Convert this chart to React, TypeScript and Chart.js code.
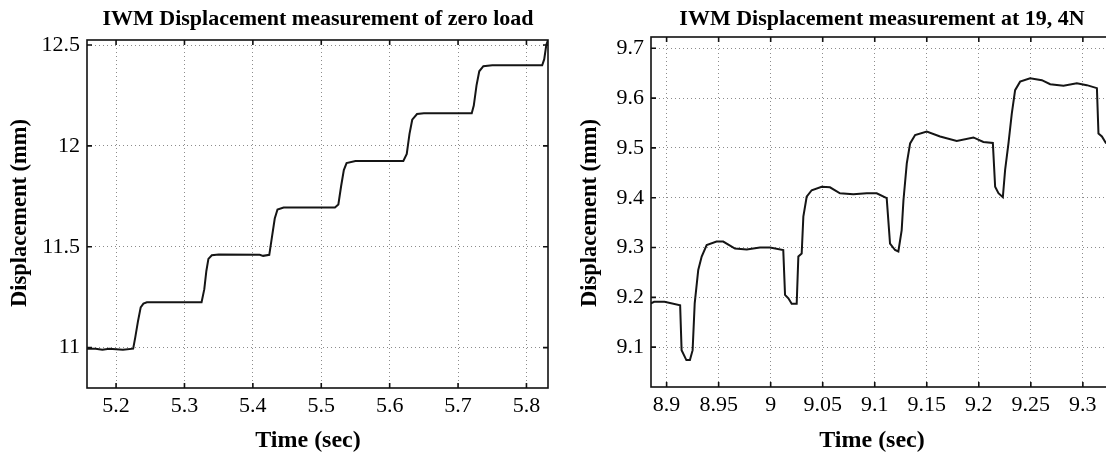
import { useEffect, useRef } from "react";
import { Chart, registerables } from "chart.js";

Chart.register(...registerables);

// ---------- data: left panel (zero load) ----------
const leftTime = [5.1575, 5.17, 5.18, 5.19, 5.21, 5.225, 5.228, 5.232, 5.236, 5.24, 5.245, 5.3, 5.325, 5.329, 5.332, 5.335, 5.34, 5.35, 5.41, 5.415, 5.424, 5.428, 5.432, 5.436, 5.445, 5.52, 5.525, 5.529, 5.533, 5.537, 5.55, 5.62, 5.625, 5.629, 5.633, 5.64, 5.65, 5.72, 5.723, 5.727, 5.731, 5.737, 5.75, 5.823, 5.826, 5.829, 5.8315];
const leftDisp = [10.995, 10.995, 10.99, 10.995, 10.99, 10.995, 11.05, 11.13, 11.2, 11.218, 11.225, 11.225, 11.225, 11.29, 11.38, 11.44, 11.458, 11.462, 11.46, 11.455, 11.46, 11.55, 11.64, 11.685, 11.695, 11.695, 11.71, 11.8, 11.88, 11.915, 11.925, 11.925, 11.96, 12.06, 12.13, 12.158, 12.162, 12.162, 12.2, 12.3, 12.37, 12.395, 12.4, 12.4, 12.43, 12.5, 12.525];
const leftXTicks = [5.2, 5.3, 5.4, 5.5, 5.6, 5.7, 5.8];
const leftYTicks = [11, 11.5, 12, 12.5];

// ---------- data: right panel (19,4 N) ----------
const rightTime = [8.885, 8.888, 8.898, 8.913, 8.9144, 8.919, 8.9224, 8.925, 8.927, 8.9304, 8.9337, 8.9385, 8.948, 8.9544, 8.9657, 8.977, 8.9897, 8.9993, 9.0121, 9.0138, 9.017, 9.0202, 9.025, 9.0266, 9.0298, 9.0314, 9.0346, 9.0394, 9.049, 9.057, 9.0666, 9.0794, 9.0923, 9.1019, 9.1115, 9.1147, 9.1195, 9.1227, 9.1259, 9.1276, 9.1308, 9.134, 9.1388, 9.15, 9.1628, 9.1788, 9.1948, 9.2044, 9.2135, 9.2157, 9.2189, 9.2231, 9.2253, 9.2285, 9.2317, 9.2349, 9.2397, 9.2493, 9.2606, 9.2686, 9.2814, 9.2942, 9.3038, 9.3135, 9.315, 9.3183, 9.3224];
const rightDisp = [9.188, 9.191, 9.191, 9.184, 9.094, 9.074, 9.074, 9.094, 9.188, 9.255, 9.282, 9.305, 9.312, 9.312, 9.298, 9.296, 9.3, 9.3, 9.295, 9.205, 9.198, 9.187, 9.187, 9.282, 9.288, 9.362, 9.402, 9.415, 9.422, 9.421, 9.409, 9.407, 9.409, 9.409, 9.399, 9.308, 9.295, 9.292, 9.335, 9.395, 9.469, 9.509, 9.526, 9.533, 9.523, 9.514, 9.521, 9.512, 9.51, 9.422, 9.409, 9.401, 9.456, 9.509, 9.569, 9.616, 9.633, 9.64, 9.636, 9.628, 9.625, 9.63, 9.626, 9.62, 9.529, 9.523, 9.509];
const rightXTicks = [8.9, 8.95, 9, 9.05, 9.1, 9.15, 9.2, 9.25, 9.3];
const rightYTicks = [9.1, 9.2, 9.3, 9.4, 9.5, 9.6, 9.7];

const FONT = "'Liberation Serif', 'Times New Roman', serif";

type TextItem = { text: string; x: number; y: number; size: number; rot?: number };

type PanelProps = {
  left: number;
  width: number;
  height: number;
  time: number[];
  disp: number[];
  xTicks: number[];
  yTicks: number[];
  xMin: number;
  xMax: number;
  yMin: number;
  yMax: number;
  yAxisWidth: number;
  xAxisHeight: number;
  padTop: number;
  padRight: number;
  texts: TextItem[];
};

function Panel(p: PanelProps) {
  const ref = useRef<HTMLCanvasElement | null>(null);
  useEffect(() => {
    if (!ref.current) return;
    const framePlugin = {
      id: "frameAndTexts",
      afterDatasetsDraw(chart: any) {
        const { ctx, chartArea: a } = chart;
        const xs = chart.scales.x;
        const ys = chart.scales.y;
        ctx.save();
        ctx.strokeStyle = "#111";
        ctx.lineWidth = 1.6;
        ctx.strokeRect(a.left, a.top, a.right - a.left, a.bottom - a.top);
        const tl = 5;
        ctx.beginPath();
        for (const v of p.xTicks) {
          const px = xs.getPixelForValue(v);
          ctx.moveTo(px, a.bottom);
          ctx.lineTo(px, a.bottom - tl);
          ctx.moveTo(px, a.top);
          ctx.lineTo(px, a.top + tl);
        }
        for (const v of p.yTicks) {
          const py = ys.getPixelForValue(v);
          ctx.moveTo(a.left, py);
          ctx.lineTo(a.left + tl, py);
          ctx.moveTo(a.right, py);
          ctx.lineTo(a.right - tl, py);
        }
        ctx.stroke();
        ctx.restore();
      },
      afterDraw(chart: any) {
        const { ctx } = chart;
        ctx.save();
        ctx.fillStyle = "#000";
        ctx.textAlign = "center";
        ctx.textBaseline = "middle";
        for (const t of p.texts) {
          ctx.save();
          ctx.font = `bold ${t.size}px ${FONT}`;
          ctx.translate(t.x, t.y);
          if (t.rot) ctx.rotate(t.rot);
          ctx.fillText(t.text, 0, 0);
          ctx.restore();
        }
        ctx.restore();
      },
    };

    const chart = new Chart(ref.current, {
      type: "line",
      data: {
        datasets: [
          {
            data: p.time.map((t, i) => ({ x: t, y: p.disp[i] })),
            borderColor: "#151515",
            borderWidth: 2,
            pointRadius: 0,
            tension: 0,
            fill: false,
          },
        ],
      },
      options: {
        responsive: false,
        animation: false,
        events: [],
        layout: { padding: { top: p.padTop, right: p.padRight, left: 0, bottom: 0 } },
        plugins: { legend: { display: false }, tooltip: { enabled: false }, title: { display: false } },
        scales: {
          x: {
            type: "linear",
            min: p.xMin,
            max: p.xMax,
            afterBuildTicks: (s: any) => {
              s.ticks = p.xTicks.map((v) => ({ value: v }));
            },
            afterFit: (s: any) => {
              s.height = p.xAxisHeight;
            },
            grid: { color: "rgba(0,0,0,0.45)", lineWidth: 1, drawTicks: false },
            border: { display: false, dash: [1, 3] },
            ticks: {
              autoSkip: false,
              maxRotation: 0,
              padding: 5,
              color: "#000",
              font: { family: FONT, size: 22 },
              callback: (v: any) => String(Number(v)),
            },
          },
          y: {
            type: "linear",
            min: p.yMin,
            max: p.yMax,
            afterBuildTicks: (s: any) => {
              s.ticks = p.yTicks.map((v) => ({ value: v }));
            },
            afterFit: (s: any) => {
              s.width = p.yAxisWidth;
            },
            grid: { color: "rgba(0,0,0,0.45)", lineWidth: 1, drawTicks: false },
            border: { display: false, dash: [1, 3] },
            ticks: {
              autoSkip: false,
              padding: 7,
              color: "#000",
              font: { family: FONT, size: 22 },
              callback: (v: any) => String(Number(v)),
            },
          },
        },
      } as any,
      plugins: [framePlugin],
    });
    return () => chart.destroy();
  }, []);
  return (
    <canvas
      ref={ref}
      width={p.width}
      height={p.height}
      style={{ position: "absolute", left: p.left, top: 0, width: p.width, height: p.height, display: "block" }}
    />
  );
}

export default function App() {
  return (
    <div style={{ position: "fixed", left: 0, top: 0, width: 1106, height: 458, overflow: "hidden", background: "#fff" }}>
      <Panel
        left={0}
        width={560}
        height={458}
        time={leftTime}
        disp={leftDisp}
        xTicks={leftXTicks}
        yTicks={leftYTicks}
        xMin={5.1575}
        xMax={5.8315}
        yMin={10.8}
        yMax={12.525}
        yAxisWidth={87}
        xAxisHeight={70}
        padTop={40}
        padRight={12}
        texts={[
          { text: "IWM Displacement measurement of zero load", x: 318, y: 19, size: 22 },
          { text: "Time (sec)", x: 308, y: 441, size: 24 },
          { text: "Displacement (mm)", x: 20, y: 213, size: 22.5, rot: -Math.PI / 2 },
        ]}
      />
      <Panel
        left={560}
        width={556}
        height={458}
        time={rightTime}
        disp={rightDisp}
        xTicks={rightXTicks}
        yTicks={rightYTicks}
        xMin={8.885}
        xMax={9.328}
        yMin={9.02}
        yMax={9.7227}
        yAxisWidth={91}
        xAxisHeight={71}
        padTop={37}
        padRight={4}
        texts={[
          { text: "IWM Displacement measurement at 19, 4N", x: 322, y: 19, size: 22 },
          { text: "Time (sec)", x: 312, y: 441, size: 24 },
          { text: "Displacement (mm)", x: 30, y: 213, size: 22.5, rot: -Math.PI / 2 },
        ]}
      />
    </div>
  );
}
